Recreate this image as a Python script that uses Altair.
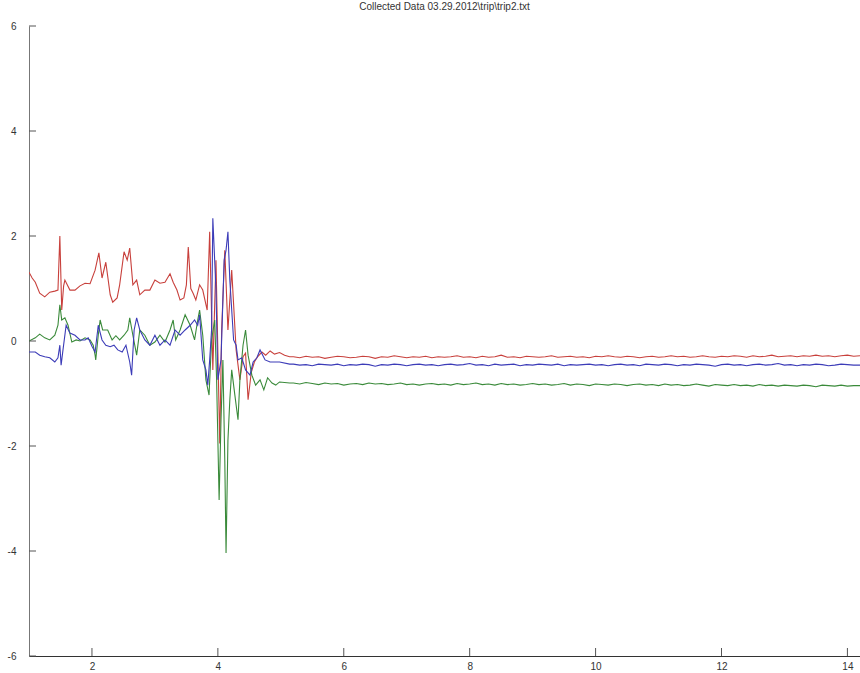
import altair as alt
import pandas as pd

TITLE = "Collected Data 03.29.2012\\trip\\trip2.txt"

x_ticks = [2, 4, 6, 8, 10, 12, 14]
y_ticks = [-6, -4, -2, 0, 2, 4, 6]

# Active part (before ~5.1 s), per series
red_x = [1.00, 1.05, 1.10, 1.17, 1.25, 1.33, 1.41, 1.46, 1.49, 1.52, 1.55, 1.57, 1.65, 1.73, 1.81, 1.89,
         1.97, 2.05, 2.11, 2.16, 2.22, 2.29, 2.33, 2.40, 2.44, 2.51, 2.56, 2.60, 2.65, 2.71, 2.76, 2.84,
         2.92, 3.00, 3.08, 3.16, 3.24, 3.29, 3.35, 3.40, 3.46, 3.50, 3.53, 3.57, 3.61, 3.65, 3.71, 3.76,
         3.83, 3.87, 3.92, 3.97, 4.03, 4.06, 4.11, 4.16, 4.22, 4.29, 4.35, 4.40, 4.44, 4.48, 4.53, 4.58,
         4.63, 4.70, 4.76, 4.83, 4.90, 4.98, 5.06, 5.14]
red_y = [1.31, 1.20, 1.12, 0.91, 0.84, 0.93, 0.95, 0.97, 2.00, 0.59, 1.05, 1.16, 0.97, 0.97, 1.05, 1.10,
         1.09, 1.35, 1.68, 1.20, 1.50, 0.88, 0.74, 0.82, 1.07, 1.70, 1.54, 1.77, 1.07, 1.16, 0.88, 0.97,
         0.97, 1.16, 1.10, 1.12, 1.28, 1.12, 0.97, 0.78, 0.82, 1.07, 1.79, 1.00, 0.90, 0.78, 1.07, 0.97,
         0.59, 2.08, -0.55, 1.54, -1.95, 0.20, 1.73, 0.21, 1.35, -0.17, -0.74, -0.30, -0.23, -1.12, -0.60, -0.40,
         -0.30, -0.21, -0.27, -0.19, -0.25, -0.22, -0.27, -0.30]

green_x = [1.00, 1.10, 1.17, 1.25, 1.33, 1.41, 1.46, 1.49, 1.52, 1.57, 1.62, 1.68, 1.75, 1.81, 1.89, 1.97,
           2.02, 2.05, 2.06, 2.10, 2.13, 2.17, 2.25, 2.32, 2.38, 2.44, 2.51, 2.57, 2.60, 2.65, 2.68, 2.71,
           2.76, 2.84, 2.92, 3.00, 3.08, 3.16, 3.24, 3.29, 3.33, 3.40, 3.48, 3.56, 3.63, 3.68, 3.71, 3.76,
           3.81, 3.86, 3.90, 3.95, 3.98, 4.02, 4.05, 4.08, 4.11, 4.13, 4.16, 4.19, 4.22, 4.27, 4.32, 4.35,
           4.40, 4.44, 4.48, 4.54, 4.60, 4.67, 4.73, 4.79, 4.86, 4.92, 4.98, 5.14]
green_y = [0.00, 0.06, 0.13, 0.06, 0.02, 0.11, 0.30, 0.69, 0.40, 0.44, 0.30, -0.02, 0.02, 0.00, 0.06, 0.02,
           -0.08, -0.27, -0.36, 0.11, 0.40, 0.21, 0.21, 0.02, 0.10, 0.02, 0.11, 0.21, 0.44, 0.11, -0.08, -0.27,
           0.21, 0.11, -0.08, -0.02, 0.11, -0.02, 0.21, 0.40, 0.02, 0.21, 0.50, 0.30, 0.02, 0.40, 0.59, 0.11,
           -0.74, -1.03, 0.02, 0.40, -0.74, -3.03, -1.50, -0.36, -2.27, -4.04, -1.89, -1.12, -0.55, -1.03, -1.50, -0.74,
           -0.08, 0.21, -0.27, -0.65, -0.84, -0.74, -0.93, -0.70, -0.80, -0.84, -0.78, -0.80]

blue_x = [1.00, 1.10, 1.17, 1.25, 1.33, 1.41, 1.46, 1.49, 1.51, 1.54, 1.59, 1.65, 1.73, 1.81, 1.89, 1.94,
          2.00, 2.05, 2.10, 2.16, 2.22, 2.29, 2.35, 2.41, 2.48, 2.54, 2.60, 2.63, 2.67, 2.71, 2.76, 2.84,
          2.92, 3.00, 3.08, 3.16, 3.24, 3.32, 3.40, 3.48, 3.56, 3.63, 3.68, 3.71, 3.76, 3.81, 3.84, 3.87,
          3.90, 3.92, 3.97, 4.00, 4.05, 4.10, 4.13, 4.16, 4.19, 4.22, 4.25, 4.29, 4.32, 4.38, 4.44, 4.51,
          4.56, 4.62, 4.67, 4.75, 4.83, 4.98, 5.14]
blue_y = [-0.21, -0.21, -0.27, -0.30, -0.32, -0.40, -0.32, -0.08, -0.46, -0.17, 0.30, 0.15, 0.11, 0.02, 0.02, 0.06,
          -0.10, -0.21, 0.30, 0.02, -0.08, -0.11, -0.08, -0.17, -0.21, -0.08, -0.40, -0.65, 0.21, 0.44, 0.21, 0.02,
          -0.08, 0.11, -0.08, 0.02, -0.08, 0.21, 0.11, 0.21, 0.30, 0.40, 0.30, 0.50, -0.36, -0.55, -0.84, -0.36,
          0.21, 2.34, 0.97, -0.74, -0.36, 1.54, 1.73, 2.08, 1.16, 0.59, 0.02, -0.08, -0.36, -0.32, -0.55, -0.65,
          -0.40, -0.32, -0.17, -0.36, -0.40, -0.40, -0.44]

# Settled part, sampled every 0.1 from 5.2 to 14.2
flat_x = [round(5.2 + 0.1 * i, 1) for i in range(91)]
red_flat = [-0.30, -0.32, -0.29, -0.31, -0.30, -0.33, -0.31, -0.29, -0.30, -0.32,
            -0.31, -0.29, -0.30, -0.33, -0.30, -0.31, -0.28, -0.30, -0.32, -0.30,
            -0.31, -0.29, -0.32, -0.30, -0.31, -0.30, -0.28, -0.31, -0.30, -0.32,
            -0.29, -0.31, -0.30, -0.27, -0.31, -0.30, -0.32, -0.29, -0.30, -0.31,
            -0.30, -0.28, -0.31, -0.30, -0.29, -0.31, -0.30, -0.32, -0.29, -0.30,
            -0.28, -0.30, -0.31, -0.29, -0.30, -0.32, -0.30, -0.29, -0.31, -0.30,
            -0.28, -0.30, -0.29, -0.31, -0.30, -0.28, -0.30, -0.31, -0.29, -0.30,
            -0.28, -0.29, -0.31, -0.28, -0.30, -0.29, -0.27, -0.30, -0.29, -0.28,
            -0.30, -0.28, -0.29, -0.27, -0.29, -0.28, -0.30, -0.28, -0.27, -0.29,
            -0.28]
blue_flat = [-0.44, -0.46, -0.45, -0.47, -0.44, -0.45, -0.46, -0.44, -0.47, -0.45,
             -0.46, -0.44, -0.45, -0.48, -0.45, -0.46, -0.44, -0.45, -0.47, -0.45,
             -0.44, -0.46, -0.45, -0.47, -0.45, -0.44, -0.46, -0.45, -0.43, -0.46,
             -0.45, -0.47, -0.44, -0.46, -0.45, -0.44, -0.47, -0.45, -0.46, -0.44,
             -0.45, -0.46, -0.44, -0.47, -0.45, -0.46, -0.45, -0.44, -0.46, -0.45,
             -0.47, -0.45, -0.44, -0.46, -0.45, -0.47, -0.44, -0.45, -0.46, -0.44,
             -0.45, -0.47, -0.45, -0.46, -0.44, -0.45, -0.46, -0.48, -0.45, -0.44,
             -0.46, -0.45, -0.47, -0.45, -0.44, -0.46, -0.45, -0.43, -0.46, -0.45,
             -0.47, -0.45, -0.46, -0.44, -0.45, -0.47, -0.46, -0.44, -0.45, -0.46,
             -0.46]
green_flat = [-0.80, -0.82, -0.79, -0.81, -0.83, -0.80, -0.82, -0.81, -0.84, -0.82,
              -0.81, -0.83, -0.80, -0.82, -0.81, -0.83, -0.82, -0.80, -0.83, -0.82,
              -0.84, -0.82, -0.81, -0.83, -0.82, -0.84, -0.81, -0.83, -0.82, -0.80,
              -0.83, -0.82, -0.84, -0.81, -0.83, -0.82, -0.84, -0.83, -0.81, -0.83,
              -0.82, -0.84, -0.83, -0.81, -0.84, -0.82, -0.83, -0.85, -0.82, -0.83,
              -0.84, -0.82, -0.83, -0.85, -0.83, -0.82, -0.84, -0.83, -0.85, -0.82,
              -0.84, -0.83, -0.85, -0.84, -0.82, -0.84, -0.86, -0.83, -0.84, -0.85,
              -0.83, -0.85, -0.84, -0.86, -0.83, -0.85, -0.84, -0.86, -0.84, -0.85,
              -0.86, -0.84, -0.85, -0.87, -0.84, -0.85, -0.86, -0.84, -0.86, -0.85,
              -0.85]

series = ["red", "green", "blue"]
colors = ["#c8403c", "#3a8a3a", "#3c3cb8"]

rows = []
for name, xs, ys, fy in [("red", red_x, red_y, red_flat),
                         ("green", green_x, green_y, green_flat),
                         ("blue", blue_x, blue_y, blue_flat)]:
    order = 0
    for x, y in list(zip(xs, ys)) + list(zip(flat_x, fy)):
        rows.append({"s": name, "t": x, "v": y, "o": order})
        order += 1
df = pd.DataFrame(rows)

W, H = 831, 630
xscale = alt.Scale(domain=[1, 14.2], nice=False, zero=False)
yscale = alt.Scale(domain=[-6, 6], nice=False)

xaxis = alt.Axis(values=x_ticks, title=None, ticks=False, grid=False,
                 labelExpr="datum.value + ''",
                 labelFontSize=10, labelColor="#333", labelPadding=5,
                 domainColor="#333", labelFont="Liberation Sans")
yaxis = alt.Axis(values=y_ticks, title=None, ticks=False, grid=False,
                 labelExpr="datum.value + ''",
                 labelFontSize=10, labelColor="#333", labelPadding=13,
                 domainColor="#777", labelFont="Liberation Sans")

lines = alt.Chart(df).mark_line(strokeWidth=1.1, clip=True).encode(
    x=alt.X("t:Q", scale=xscale, axis=xaxis),
    y=alt.Y("v:Q", scale=yscale, axis=yaxis),
    color=alt.Color("s:N", scale=alt.Scale(domain=series, range=colors), legend=None),
    order="o:Q",
    detail="s:N",
)

xt = alt.Chart(pd.DataFrame({"t": x_ticks})).mark_rule(color="#555", strokeWidth=1).encode(
    x=alt.X("t:Q", scale=xscale, axis=xaxis), y=alt.value(H - 8), y2=alt.value(H))
yt = alt.Chart(pd.DataFrame({"v": y_ticks})).mark_rule(color="#555", strokeWidth=1).encode(
    y=alt.Y("v:Q", scale=yscale, axis=yaxis), x=alt.value(0), x2=alt.value(7))

chart = alt.layer(lines, xt, yt).properties(
    width=W, height=H,
    background="white",
    title=alt.TitleParams(TITLE, fontSize=10, fontWeight="normal", color="#333",
                          font="Liberation Sans", offset=9, anchor="middle"),
    autosize=alt.AutoSizeParams(type="none"),
    padding={"left": 29, "top": 26, "right": 0, "bottom": 17},
).configure_view(stroke=None, strokeWidth=0)

chart.save("out.html", embed_options={"renderer": "svg", "actions": False})
